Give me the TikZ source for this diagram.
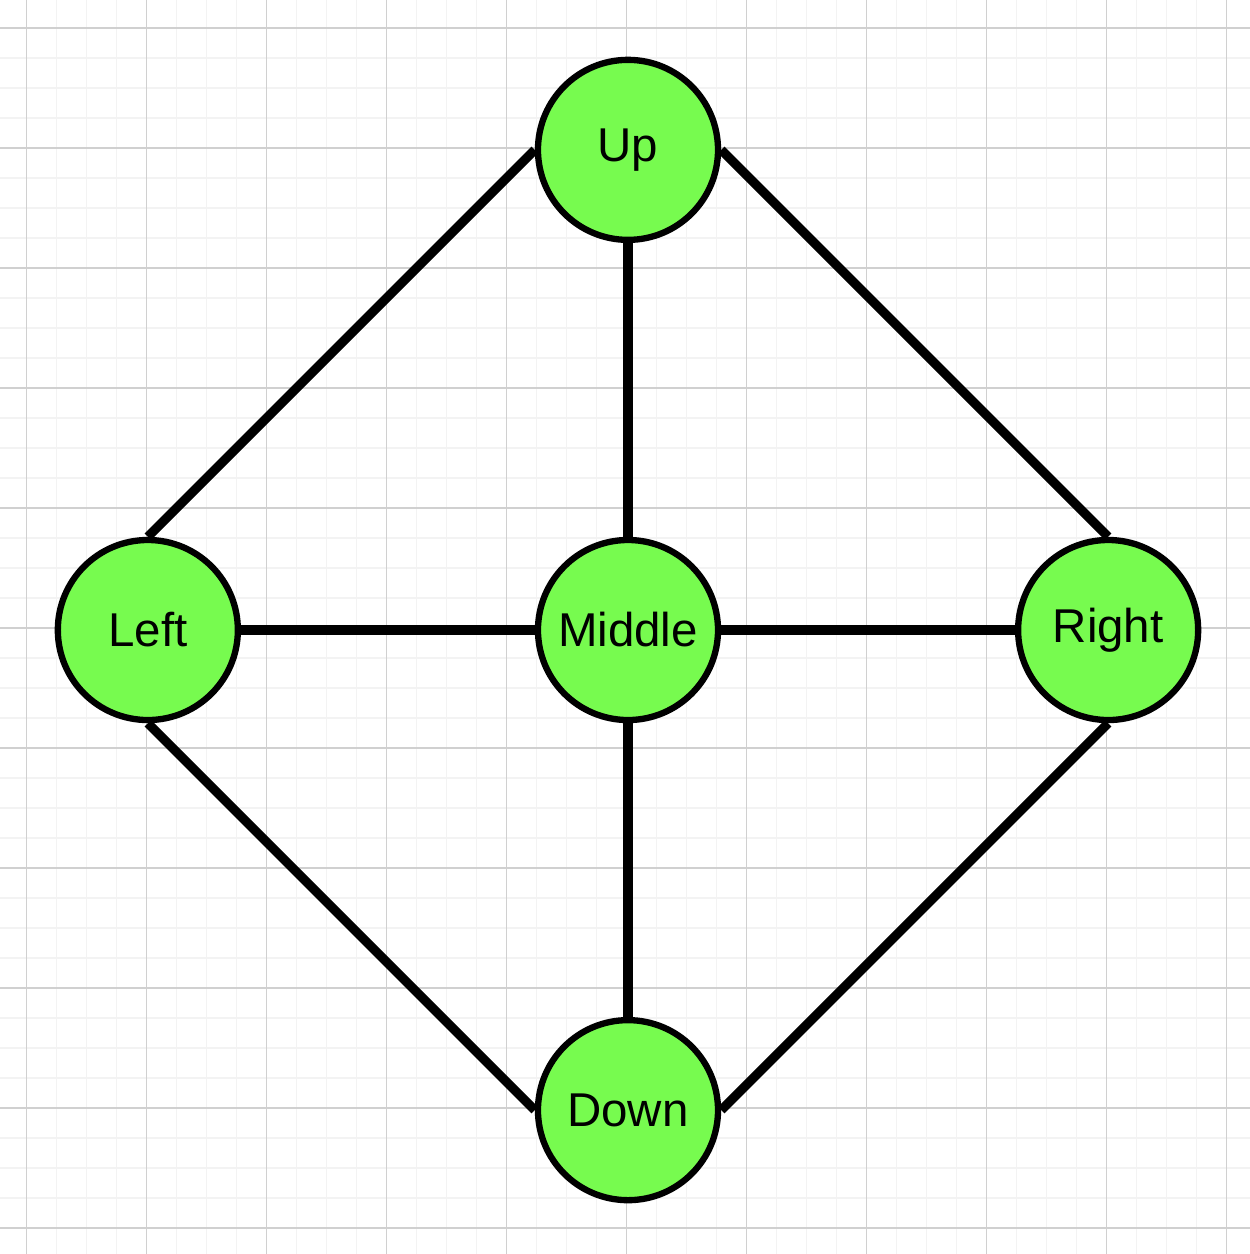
\documentclass[tikz,border=0pt]{standalone}
\usepackage{fontspec}
\setmainfont{Liberation Sans}
\usepackage{xcolor}
\usepackage{tikz}
\usetikzlibrary{matrix}

\definecolor{vertexgreen}{HTML}{77FB4F}
\definecolor{minorgray}{HTML}{F3F3F3}
\definecolor{majorgray}{HTML}{D0D0D0}

\begin{document}
\begin{tikzpicture}[x=0.0166667cm, y=-0.0166667cm,
  vertex/.style={circle, draw=black, line width=3pt, fill=vertexgreen, minimum size=3cm, inner sep=0pt, font=\fontsize{22.5}{26}\selectfont},
  link/.style={line width=4.4pt, black},
  minorline/.style={minorgray, line width=0.7pt},
  majorline/.style={majorgray, line width=0.5pt}]
\useasboundingbox (0,0) rectangle (1250,1254);
\fill[white] (0,0) rectangle (1250,1254);
% grid
\foreach \k in {0,...,40} {
  \draw[minorline] ({26.5+30*\k},0) -- ({26.5+30*\k},1254);
  \draw[minorline] (0,{28+30*\k}) -- (1250,{28+30*\k});
}
\foreach \k in {0,...,10} {
  \draw[majorline] ({26.5+120*\k},0) -- ({26.5+120*\k},1254);
  \draw[majorline] (0,{28+120*\k}) -- (1250,{28+120*\k});
}
\matrix[matrix of nodes, nodes={vertex, anchor=center}, column sep=4.895cm, row sep=4.895cm] (G) at (628,630) {
 & |(up)| Up & \\
 |(left)| Left & |(middle)| Middle & |(right)| Right \\
 & |(down)| Down & \\
};
\draw[link] (up.west) -- (left.north);
\draw[link] (up.east) -- (right.north);
\draw[link] (left.south) -- (down.west);
\draw[link] (right.south) -- (down.east);
\draw[link] (up.south) -- (middle.north);
\draw[link] (middle.south) -- (down.north);
\draw[link] (left.east) -- (middle.west);
\draw[link] (middle.east) -- (right.west);
\end{tikzpicture}
\end{document}
